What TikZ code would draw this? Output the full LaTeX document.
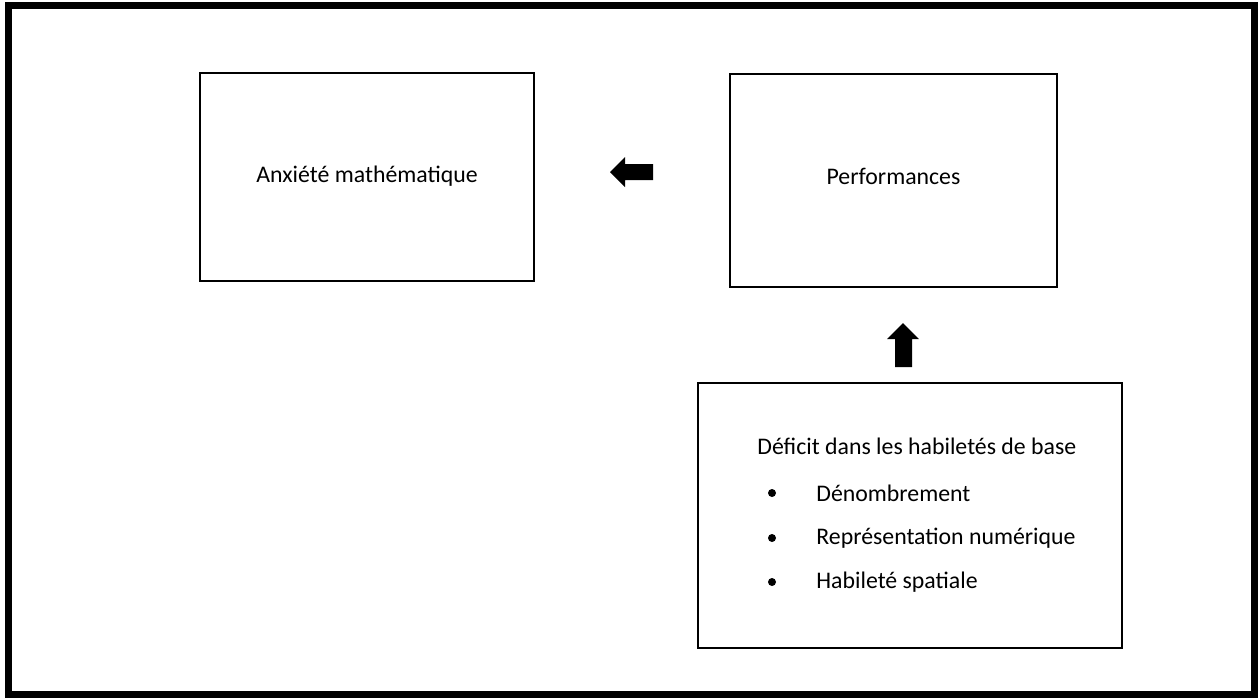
\documentclass[tikz,border=0pt]{standalone}
\usepackage{fontspec}
\setmainfont{Carlito}
\begin{document}
\begin{tikzpicture}[x=0.5pt,y=-0.5pt,
  box/.style={draw=black,line width=1pt,inner sep=0pt},
  txt/.style={font=\fontsize{11.9}{14}\selectfont,inner sep=0pt},
  blockarrow/.style={fill=black,draw=none}]
\useasboundingbox (0,0) rectangle (1258,698);
% outer frame
\draw[line width=3.5pt] (8,5) rectangle (1254.5,694.5);

% boxes
\draw[box] (200,73) rectangle (534,281);
\draw[box] (730,74) rectangle (1057,287);
\draw[box] (698,383) rectangle (1122,648);
\node[txt] (anx) at (367,176) {Anxiété mathématique};
\node[txt] (perf) at (893.5,176) {Performances};

% content of the lower box
\node[txt,anchor=west] (def) at (757,446) {Déficit dans les habiletés de base};
\foreach \y/\t [count=\i] in {493/Dénombrement,538/Représentation numérique,582/Habileté spatiale}{
  \fill (772,\y) circle (4);
  \node[txt,anchor=west] (item\i) at (816,\y) {\t};
}

% block arrows
\fill[blockarrow] (610,172) -- (625,157) -- (625,164) -- (653,164) -- (653,180) -- (625,180) -- (625,187) -- cycle;
\fill[blockarrow] (903,323) -- (919,339) -- (912,339) -- (912,367) -- (895,367) -- (895,339) -- (887,339) -- cycle;
\end{tikzpicture}
\end{document}
